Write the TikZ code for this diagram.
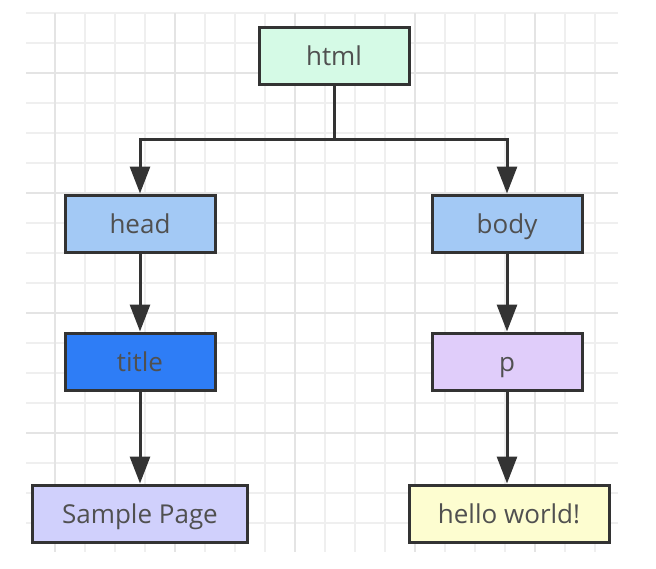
\documentclass[tikz,border=0pt]{standalone}
\usepackage{fontspec}
\setmainfont{Open Sans}
\usetikzlibrary{arrows.meta}
\definecolor{gridminor}{HTML}{EFEFEF}
\definecolor{gridmajor}{HTML}{E4E4E4}
\definecolor{edgec}{HTML}{333333}
\definecolor{txtc}{HTML}{505050}
\definecolor{cHtml}{HTML}{D5FAE6}
\definecolor{cHead}{HTML}{A3C9F5}
\definecolor{cTitle}{HTML}{2E7DF6}
\definecolor{cP}{HTML}{E0CDFA}
\definecolor{cSample}{HTML}{D0D0FC}
\definecolor{cHello}{HTML}{FDFDD0}
\tikzset{
  box/.style={draw=edgec, line width=3pt, minimum height=57pt, inner sep=0pt,
    font=\fontsize{26}{30}\selectfont, text=txtc, text height=21pt, text depth=2pt},
  conn/.style={draw=edgec, line width=3pt, -{Triangle[width=20pt,length=27pt]}},
  plainconn/.style={draw=edgec, line width=3pt}
}
\begin{document}
\begin{tikzpicture}[x=1pt,y=-1pt]
\useasboundingbox (0,0) rectangle (656,568);
\fill[white] (0,0) rectangle (656,568);
% grid
\foreach \gx in {55,85,...,595} {\draw[gridminor, line width=1.5pt] (\gx,13) -- (\gx,552);}
\foreach \gy in {13,43,...,523} {\draw[gridminor, line width=1.5pt] (26,\gy) -- (618,\gy);}
\foreach \gx in {55,175,...,595} {\draw[gridmajor, line width=1.5pt] (\gx,13) -- (\gx,552);}
\foreach \gy in {73,193,...,523} {\draw[gridmajor, line width=1.5pt] (26,\gy) -- (618,\gy);}
% nodes
\node[box, fill=cHtml, minimum width=150pt] (html) at (334,55.5) {html};
\node[box, fill=cHead, minimum width=150pt] (head) at (140,223.5) {head};
\node[box, fill=cHead, minimum width=150pt] (body) at (507,223.5) {body};
\node[box, fill=cTitle, minimum width=150pt] (title) at (140,361.5) {title};
\node[box, fill=cP, minimum width=150pt] (p) at (507,361.5) {p};
\node[box, fill=cSample, minimum width=215pt] (sample) at (140,513.5) {Sample Page};
\node[box, fill=cHello, minimum width=200pt] (hello) at (509,513.5) {hello world!};
% connectors
\coordinate (split) at (334,139);
\draw[plainconn] (html.south) -- (split);
\draw[conn] (split) -| (head.north);
\draw[conn] (split) -| (body.north);
\draw[conn] (head) -- (title);
\draw[conn] (title) -- (sample.north -| title.south);
\draw[conn] (body) -- (p);
\draw[conn] (p) -- (hello.north -| p.south);
\end{tikzpicture}
\end{document}
